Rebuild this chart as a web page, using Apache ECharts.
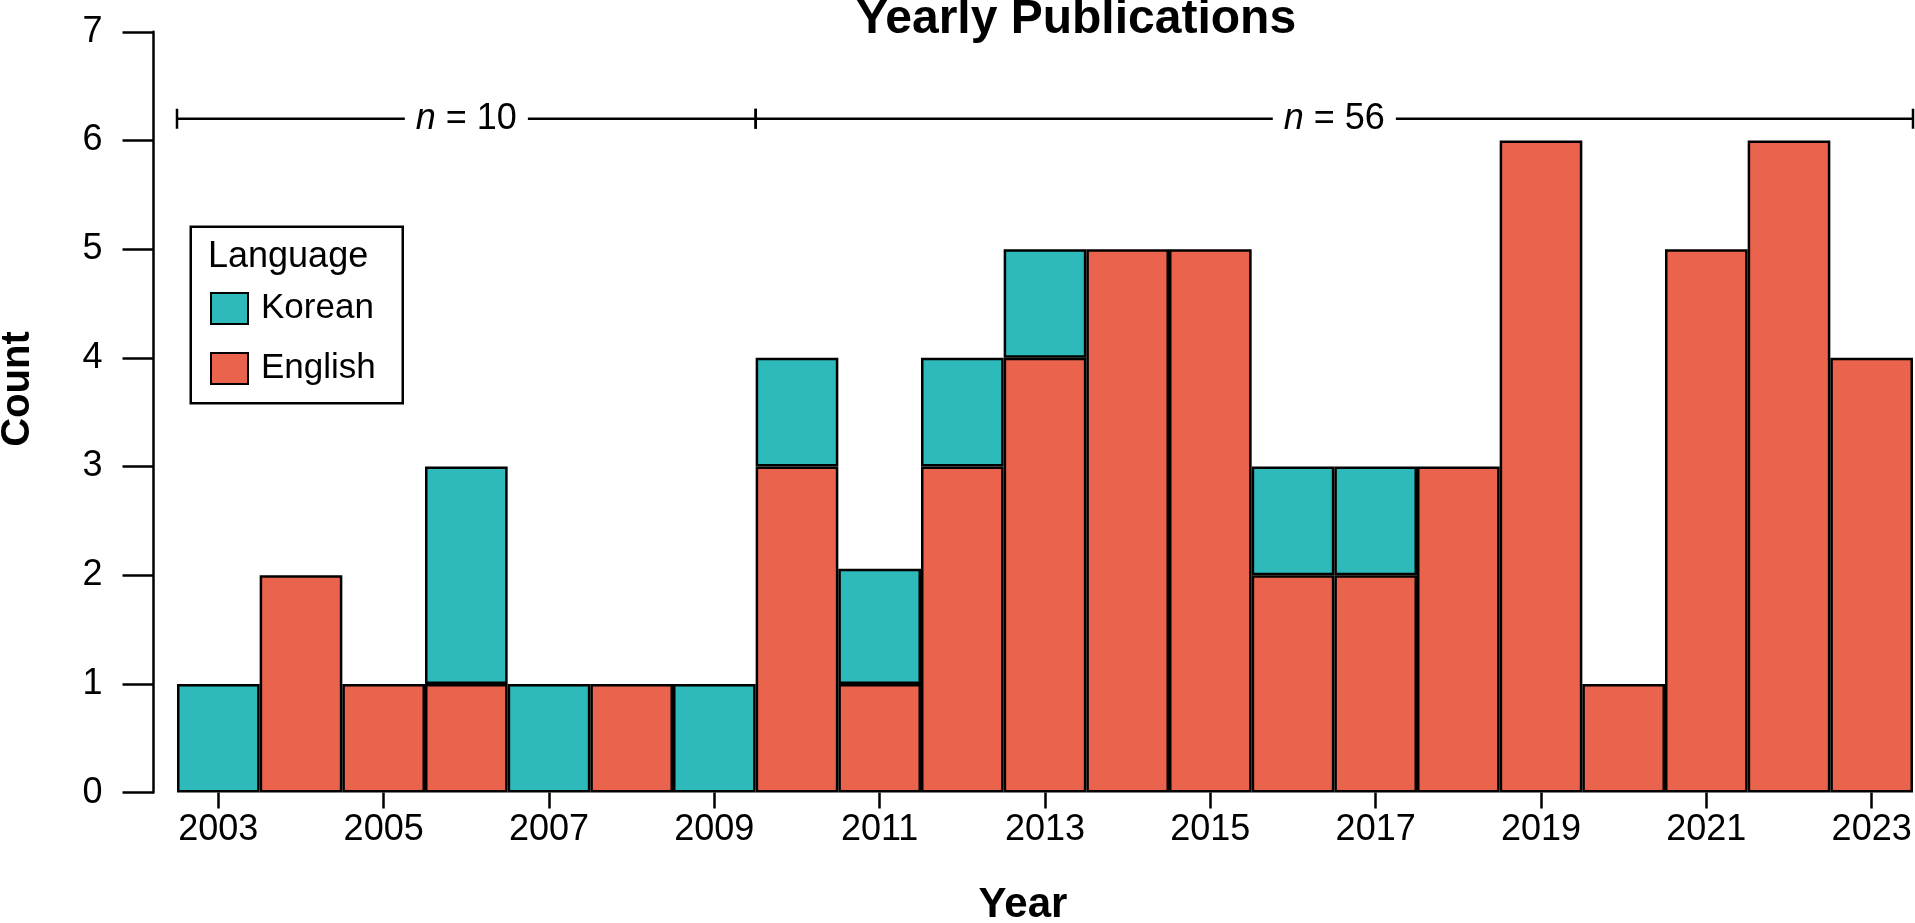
<!DOCTYPE html>
<html>
<head>
<meta charset="utf-8">
<script src="https://cdn.jsdelivr.net/npm/echarts@6/dist/echarts.min.js"></script>
<style>
html,body{margin:0;padding:0;background:#fff;}
#chart{width:1915px;height:923px;}
</style>
</head>
<body>
<div id="chart"></div>
<script>
// ---- data ----
const years = ['2003','2004','2005','2006','2007','2008','2009','2010','2011','2012','2013','2014','2015','2016','2017','2018','2019','2020','2021','2022','2023'];
const english = [null,2,1,1,null,1,null,3,1,3,4,5,5,2,2,3,6,1,5,6,4];
const korean  = [1,null,null,2,1,null,1,1,1.06,1,1,null,null,1,1,null,null,null,null,null,null];
const yTicks = [0,1,2,3,4,5,6,7];
// sample-size brackets: [start boundary, end boundary, level, n]
const bracketStart = [2002.5, 2009.5];
const bracketEnd   = [2009.5, 2023.5];
const bracketLevel = [6.2, 6.2];
const bracketN     = [10, 56];

const FONT = '"Liberation Sans", Arial, Helvetica, sans-serif';
const KOREAN_COLOR = '#2EB9BA';
const ENGLISH_COLOR = '#EA634C';

const bracketData = bracketN.map((n, i) => [bracketStart[i], bracketEnd[i], bracketLevel[i], n]);

const chart = echarts.init(document.getElementById('chart'), null, {renderer: 'canvas'});

const barItemStyle = (c) => ({color: c, borderColor: '#000', borderWidth: 2.5});

chart.setOption({
  animation: false,
  backgroundColor: '#fff',
  textStyle: {fontFamily: FONT},
  grid: {left: 177, right: 2, top: 31.8, bottom: 130.4, containLabel: false},
  xAxis: [{
    type: 'category',
    data: years,
    boundaryGap: true,
    axisLine: {show: false},
    axisTick: {show: true, alignWithLabel: true, interval: 1, length: 16, lineStyle: {color: '#000', width: 2.5}},
    axisLabel: {interval: 1, margin: 19, color: '#000', fontSize: 36, fontFamily: FONT},
    splitLine: {show: false}
  }, {
    type: 'value',
    min: 2002.5,
    max: 2023.5,
    show: false
  }],
  yAxis: [{
    type: 'value',
    min: yTicks[0],
    max: yTicks[yTicks.length - 1],
    interval: 1,
    offset: 23.5,
    axisLine: {show: true, lineStyle: {color: '#000', width: 2.5}},
    axisTick: {show: true, length: 31, lineStyle: {color: '#000', width: 2.5}},
    axisLabel: {margin: 51, color: '#000', fontSize: 36, fontFamily: FONT},
    splitLine: {show: false}
  }],
  legend: {
    orient: 'vertical',
    left: 210,
    top: 291,
    padding: 0,
    itemWidth: 37,
    itemHeight: 31,
    itemGap: 25,
    icon: 'rect',
    data: ['Korean', 'English'],
    textStyle: {color: '#000', fontSize: 35, fontFamily: FONT, padding: [0, 0, 0, 8]}
  },
  graphic: [
    {type: 'rect', left: 189.5, top: 225.5, z: 0,
     shape: {width: 212, height: 176.5},
     style: {fill: '#fff', stroke: '#000', lineWidth: 2.5}},
    {type: 'text', x: 208, y: 257, z: 10,
     style: {text: 'Language', font: '36px ' + FONT, fill: '#000', align: 'left', verticalAlign: 'middle'}},
    {type: 'text', x: 1076, y: 20, z: 10,
     style: {text: 'Yearly Publications', font: 'bold 48px ' + FONT, fill: '#000', align: 'center', verticalAlign: 'middle'}},
    {type: 'text', x: 1023, y: 905, z: 10,
     style: {text: 'Year', font: 'bold 42px ' + FONT, fill: '#000', align: 'center', verticalAlign: 'middle'}},
    {type: 'text', x: 18, y: 389, rotation: Math.PI / 2, z: 10,
     style: {text: 'Count', font: 'bold 40px ' + FONT, fill: '#000', align: 'center', verticalAlign: 'middle'}}
  ],
  series: [
    {name: 'English', type: 'bar', stack: 'lang', data: english, barCategoryGap: '0%',
     itemStyle: barItemStyle(ENGLISH_COLOR)},
    {name: 'Korean', type: 'bar', stack: 'lang', data: korean, barCategoryGap: '0%',
     itemStyle: barItemStyle(KOREAN_COLOR)},
    {
      name: 'brackets', type: 'custom', xAxisIndex: 1, yAxisIndex: 0,
      data: bracketData, z: 20, clip: false,
      renderItem: function (params, api) {
        const a = api.coord([api.value(0), api.value(2)]);
        const b = api.coord([api.value(1), api.value(2)]);
        const ls = {stroke: '#000', lineWidth: 2.5};
        const cap = 10;
        return {
          type: 'group',
          children: [
            {type: 'line', shape: {x1: a[0], y1: a[1], x2: b[0], y2: b[1]}, style: ls},
            {type: 'line', shape: {x1: a[0], y1: a[1] - cap, x2: a[0], y2: a[1] + cap}, style: ls},
            {type: 'line', shape: {x1: b[0], y1: b[1] - cap, x2: b[0], y2: b[1] + cap}, style: ls},
            {type: 'text', x: (a[0] + b[0]) / 2, y: a[1], z2: 10,
             style: {
               text: '{i|n} = ' + api.value(3),
               rich: {i: {fontStyle: 'italic', fontSize: 36, fontFamily: FONT, fill: '#000'}},
               fontSize: 36, fontFamily: FONT, fill: '#000',
               align: 'center', verticalAlign: 'middle',
               backgroundColor: '#fff', padding: [0, 11]
             }}
          ]
        };
      }
    }
  ]
});
</script>
</body>
</html>
